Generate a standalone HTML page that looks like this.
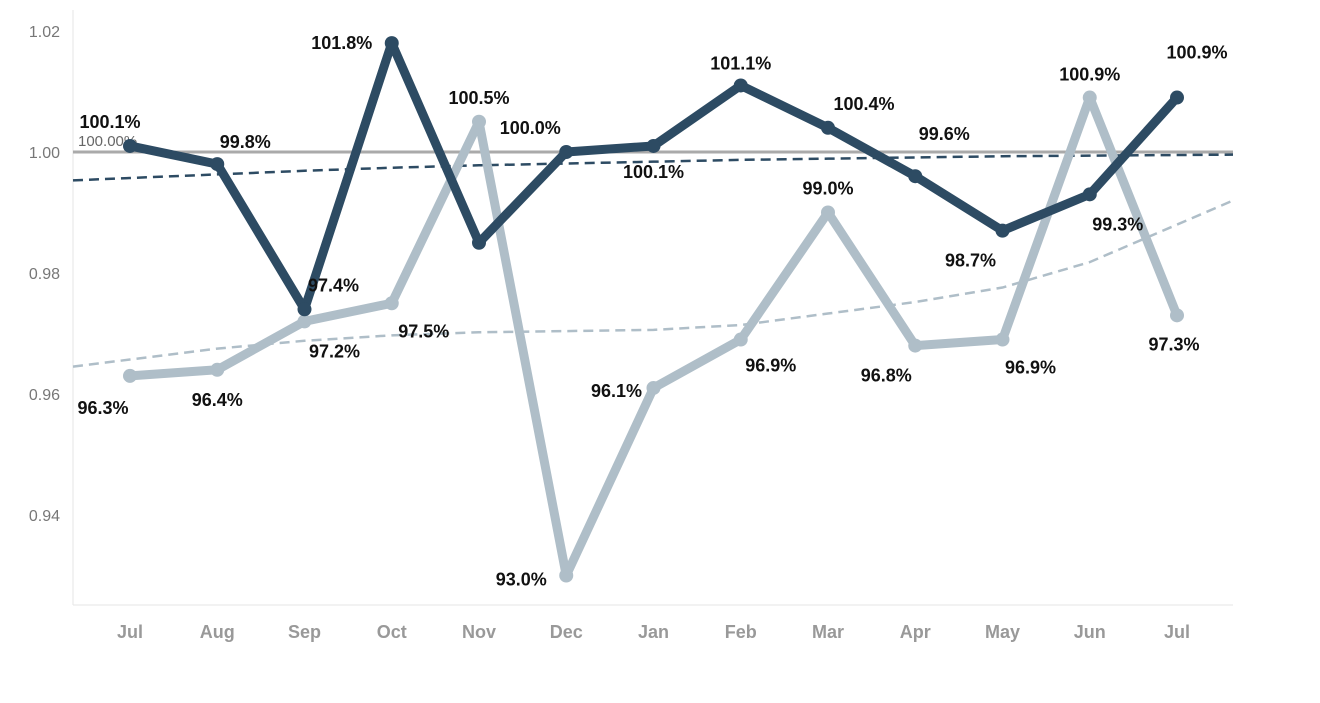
<!DOCTYPE html>
<html><head><meta charset="utf-8"><style>
body{margin:0;background:#fff;font-family:"Liberation Sans",sans-serif}
svg text{font-family:"Liberation Sans",sans-serif}
</style></head><body>
<svg id="chart" width="1320" height="698" xmlns="http://www.w3.org/2000/svg"></svg>
<script>
const categories=["Jul","Aug","Sep","Oct","Nov","Dec","Jan","Feb","Mar","Apr","May","Jun","Jul"];
const darkValues=[1.001,0.998,0.974,1.018,0.985,1.000,1.001,1.011,1.004,0.996,0.987,0.993,1.009];
const lightValues=[0.963,0.964,0.972,0.975,1.005,0.930,0.961,0.969,0.990,0.968,0.969,1.009,0.973];
const darkTrend=[0.9957,0.9963,0.9969,0.9974,0.9978,0.9981,0.9984,0.9987,0.9989,0.9991,0.9993,0.9994,0.9995];
const lightTrend=[0.9657,0.9675,0.9688,0.9697,0.9702,0.9704,0.9706,0.9714,0.9733,0.9752,0.9776,0.9818,0.9880];
const yTicks=[1.02,1.00,0.98,0.96,0.94];
const darkLabels=["100.1%","99.8%","97.4%","101.8%","","100.0%","100.1%","101.1%","100.4%","99.6%","98.7%","99.3%","100.9%"];
const lightLabels=["96.3%","96.4%","97.2%","97.5%","100.5%","93.0%","96.1%","96.9%","99.0%","96.8%","96.9%","100.9%","97.3%"];
const darkOff=[[-20,-24],[28,-22],[29,-24],[-50,-0],[0,0],[-36,-24],[0,26],[0,-22],[36,-24],[29,-42],[-32,30],[28,30],[20,-45]];
const lightOff=[[-27,32],[0,30],[30,30],[32,28],[0,-24],[-45,4],[-37,3],[30,26],[0,-24],[-29,30],[28,28],[0,-23],[-3,29]];

const svg=document.getElementById('chart');const NS="http://www.w3.org/2000/svg";
const L=73,R=1233,T=20,B=605;
const x=i=>130+i*(1177-130)/(categories.length-1);
const y=v=>152-(v-1.0)/0.02*121;
function mk(t,a,p){const e=document.createElementNS(NS,t);for(const k in a)e.setAttribute(k,a[k]);(p||svg).appendChild(e);return e;}
let e;
e=mk('line',{x1:L,y1:T-10,x2:L,y2:B,stroke:'#e6e6e6'});


e=mk('line',{x1:L,y1:B,x2:R,y2:B,stroke:'#e6e6e6'});


yTicks.forEach(v=>{const t=mk('text',{x:60,y:y(v)+6,'text-anchor':'end','font-size':16,fill:'#777'});t.textContent=v.toFixed(2);

});
categories.forEach((c,i)=>{const t=mk('text',{x:x(i),y:638,'text-anchor':'middle','font-size':18,'font-weight':'bold',fill:'#999'});t.textContent=c;

});
e=mk('line',{x1:L,y1:y(1),x2:R,y2:y(1),stroke:'#aaa','stroke-width':3});


e=mk('text',{x:78,y:y(1)-6,'font-size':15,fill:'#666'});e.textContent='100.00%';


function trendPath(tr){const step=(1177-130)/12;let pts=tr.map((v,i)=>[x(i),y(v)]);
const first=[L,y(tr[0]-(tr[1]-tr[0])*(130-L)/step)];const last=[R,y(tr[12]+(tr[12]-tr[11])*(R-1177)/step)];
pts=[first,...pts,last];return 'M'+pts.map(p=>p.join(',')).join(' L');}
e=mk('path',{d:trendPath(lightTrend),fill:'none',stroke:'#afbec8','stroke-width':2.5,'stroke-dasharray':'10,6'});


e=mk('path',{d:trendPath(darkTrend),fill:'none',stroke:'#2d4b63','stroke-width':2.5,'stroke-dasharray':'10,6'});


function series(vals,col,name){const p=mk('polyline',{points:vals.map((v,i)=>x(i)+','+y(v)).join(' '),fill:'none',stroke:col,'stroke-width':9,'stroke-linejoin':'round'});


vals.forEach((v,i)=>{const c=mk('circle',{cx:x(i),cy:y(v),r:7,fill:col});

});}
series(lightValues,'#afbec8','light-series');
series(darkValues,'#2d4b63','dark-series');
function labels(vals,labs,off,name){vals.forEach((v,i)=>{if(!labs[i])return;const t=mk('text',{x:x(i)+off[i][0],y:y(v)+off[i][1]+6,'text-anchor':'middle','font-size':18,'font-weight':'bold',fill:'#111'});t.textContent=labs[i];

});}
labels(lightValues,lightLabels,lightOff,'light-series');
labels(darkValues,darkLabels,darkOff,'dark-series');
</script>
</body></html>
